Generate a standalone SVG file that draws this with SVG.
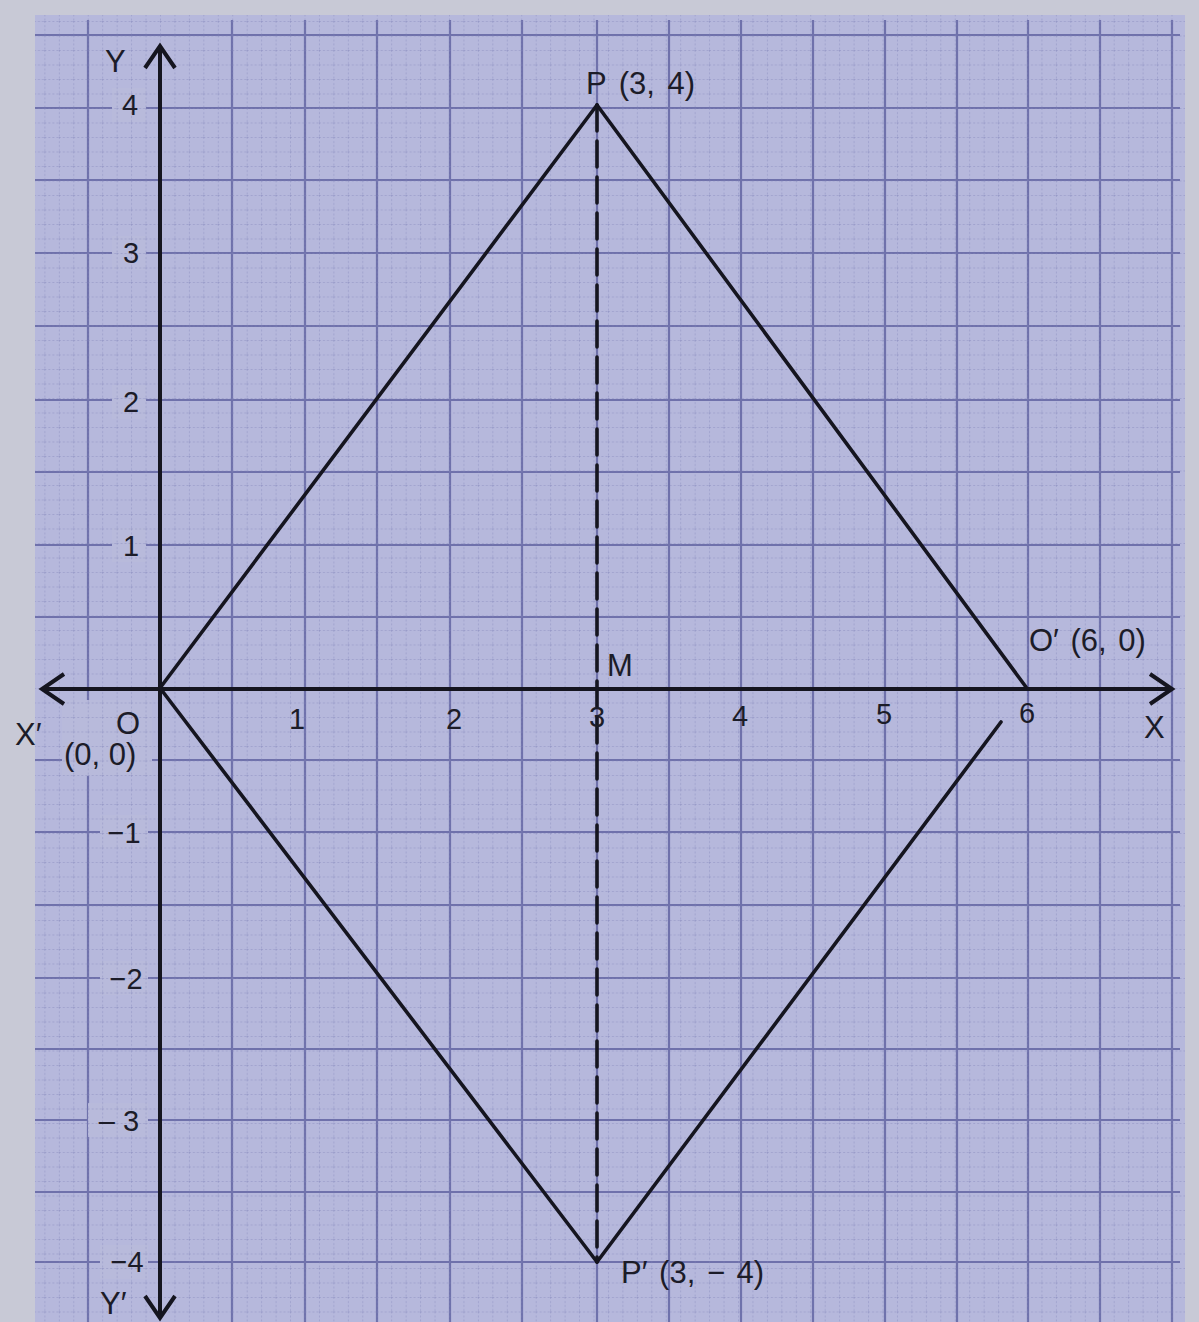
<svg xmlns="http://www.w3.org/2000/svg" width="1199" height="1322" viewBox="0 0 1199 1322">
<style>
.grid{stroke:#5e60a0;stroke-width:2.2;fill:none;opacity:0.8}
.axis{stroke:#15151f;stroke-width:4;fill:none}
.edge{stroke:#15151f;stroke-width:3.6;fill:none;stroke-linecap:round}
.lbl{font-family:"Liberation Sans",Arial,sans-serif;font-size:31px;fill:#1c1c28}
.num{font-family:"Liberation Sans",Arial,sans-serif;font-size:29px;fill:#1c1c28;text-anchor:middle}
</style>
<defs>
<pattern id="minor" patternUnits="userSpaceOnUse" x="160" y="688" width="14.45" height="14.5">
<path d="M0 0V14.5M0 0H14.45" stroke="#8082b8" stroke-width="1" stroke-dasharray="2 2"/>
</pattern>
</defs>
<rect width="1199" height="1322" fill="#c8c9d6"/>
<rect x="35" y="15" width="1150" height="1307" fill="#b6b8dc"/>
<g id="grid" class="grid">
<path d="M88 20V1322M232 20V1322M305 20V1322M377 20V1322M450 20V1322M522 20V1322M597 20V1322M669 20V1322M741 20V1322M813 20V1322M885 20V1322M957 20V1322M1028 20V1322M1100 20V1322M1172 20V1322"/>
<path d="M35 35H1180M35 180H1180M35 326H1180M35 472H1180M35 617H1180M35 760H1180M35 905H1180M35 1049H1180M35 1192H1180"/>
<path d="M35 108H1180M35 253H1180M35 400H1180M35 545H1180M35 832H1180M35 978H1180M35 1120H1180M35 1262H1180"/>
</g>
<g id="label-bg" fill="#b8badb">
<rect x="112" y="88" width="34" height="34"/>
<rect x="112" y="236" width="34" height="34"/>
<rect x="112" y="385" width="34" height="34"/>
<rect x="112" y="528" width="34" height="34"/>
<rect x="100" y="815" width="48" height="34"/>
<rect x="100" y="961" width="48" height="34"/>
<rect x="88" y="1103" width="60" height="34"/>
<rect x="100" y="1245" width="48" height="34"/>
<rect x="62" y="700" width="90" height="76"/>
</g>
<rect x="35" y="15" width="1150" height="1307" fill="url(#minor)" opacity="0.8"/>
<g id="connectors">
<path id="x-axis" class="axis" d="M42 689H1172M64 674L42 689L64 704M1150 674L1172 689L1150 704"/>
<path id="y-axis" class="axis" d="M160 46V1318M145 68L160 46L175 68M145 1296L160 1318L175 1296"/>
<path id="OP" class="edge" d="M160 688L597 105"/>
<path id="PO2" class="edge" d="M597 105L1026 687"/>
<path id="OP2" class="edge" d="M160 688L597 1262"/>
<path id="P2O2" class="edge" d="M597 1262L1001 722"/>
<path id="PM" class="edge" d="M597 105V1262" stroke-dasharray="26 10" stroke-linecap="butt"/>
</g>
<g id="node-P"><text class="lbl" x="586" y="94" word-spacing="4">P  (3, 4)</text></g>
<g id="node-O"><text class="lbl" x="116" y="734">O</text><text class="lbl" x="64" y="765">(0, 0)</text></g>
<g id="node-O2"><text class="lbl" x="1029" y="651" word-spacing="3">O′  (6, 0)</text></g>
<g id="node-P2"><text class="lbl" x="621" y="1283" word-spacing="3">P′  (3, − 4)</text></g>
<g id="node-M"><text class="lbl" x="607" y="676">M</text></g>
<g id="axis-labels">
<text class="lbl" x="105" y="72" font-size="34">Y</text>
<text class="lbl" x="100" y="1314" font-size="28">Y′</text>
<text class="lbl" x="15" y="745" font-size="34">X′</text>
<text class="lbl" x="1144" y="738" font-size="34">X</text>
</g>
<g id="ticks">
<text class="num" x="297" y="729">1</text>
<text class="num" x="454" y="729">2</text>
<text class="num" x="597" y="727">3</text>
<text class="num" x="740" y="726">4</text>
<text class="num" x="884" y="724">5</text>
<text class="num" x="1027" y="723">6</text>
<text class="num" x="130" y="115">4</text>
<text class="num" x="131" y="263">3</text>
<text class="num" x="131" y="412">2</text>
<text class="num" x="131" y="556">1</text>
<text class="num" x="124" y="843">−1</text>
<text class="num" x="126" y="989">−2</text>
<text class="num" x="119" y="1131">– 3</text>
<text class="num" x="127" y="1272">−4</text>
</g>
</svg>
